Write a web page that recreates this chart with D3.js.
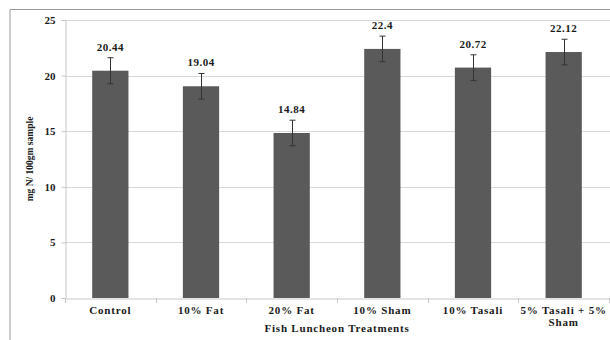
<!DOCTYPE html>
<html><head><meta charset="utf-8">
<script src="https://cdn.jsdelivr.net/npm/d3@7"></script>
<style>body{margin:0;background:#fff}svg{display:block}text{font-family:"Liberation Serif","Times New Roman",serif;font-weight:bold;fill:#1a1a1a}</style>
</head><body><svg id="c" width="610" height="340"></svg>
<script>
const categories = ["Control","10% Fat","20% Fat","10% Sham","10% Tasali","5% Tasali + 5%|Sham"];
const values = [20.44,19.04,14.84,22.4,20.72,22.12];
const errors = [1.17,1.15,1.15,1.15,1.15,1.15];
const yTicks = [0,5,10,15,20,25];

const svg = d3.select("#c");
const m = {l:65, r:0, t:20, b:42};
const W = 610, H = 340;
// outer frame
svg.append("path").attr("d","M10,340V9.5H610").attr("fill","none").attr("stroke","#9a9a9a").attr("stroke-width",1);

const x = d3.scaleBand().domain(categories).range([m.l, W - 1]).paddingInner(0.6).paddingOuter(0.3);
const y = d3.scaleLinear().domain([0,25]).range([298, 20]);

// gridlines
svg.append("g").selectAll("line").data(yTicks.filter(d=>d>0)).join("line")
  .attr("x1", m.l).attr("x2", W).attr("y1", d=>Math.round(y(d))+0.5).attr("y2", d=>Math.round(y(d))+0.5)
  .attr("stroke","#d9d9d9");

// y axis
const ya = svg.append("g").attr("transform",`translate(${m.l+0.5},0)`)
  .call(d3.axisLeft(y).tickValues(yTicks).tickSize(4).tickPadding(6));
ya.select(".domain").attr("stroke","#c8c8c8");
ya.selectAll(".tick line").attr("stroke","#c8c8c8");
ya.selectAll(".tick text").attr("font-size",11).attr("font-family","Liberation Serif").attr("font-weight","bold").attr("fill","#222");

// x axis
const xa = svg.append("g").attr("transform",`translate(0,${Math.round(y(0))+0.5})`)
  .call(d3.axisBottom(x).tickSize(0).tickFormat(""));
xa.select(".domain").attr("stroke","#c8c8c8");
const step = x.step();
const bounds = d3.range(categories.length+1).map(i => x(categories[0]) - x.bandwidth()*0 - (step - x.bandwidth())/2 + i*step);
svg.append("g").selectAll("line").data(bounds).join("line")
  .attr("x1", d=>Math.round(d)+0.5).attr("x2", d=>Math.round(d)+0.5)
  .attr("y1", y(0)).attr("y2", y(0)+5).attr("stroke","#c8c8c8");

// category labels
const cl = svg.append("g").selectAll("text").data(categories).join("text")
  .attr("x", d=>x(d)+x.bandwidth()/2).attr("y", 314)
  .attr("text-anchor","middle").attr("font-size",11).attr("letter-spacing","0.8px");
cl.each(function(d){
  const parts = d.split("|");
  d3.select(this).selectAll("tspan").data(parts).join("tspan")
    .attr("x", x(d)+x.bandwidth()/2).attr("dy",(p,i)=>i?12:0).text(p=>p);
});

// bars
svg.append("g").selectAll("rect").data(values).join("rect")
  .attr("x",(d,i)=>x(categories[i])).attr("width",x.bandwidth())
  .attr("y",d=>y(d)).attr("height",d=>y(0)-y(d)).attr("fill","#5a5a5a");

// error bars
const eg = svg.append("g").attr("stroke","#333").attr("stroke-width",1);
values.forEach((v,i)=>{
  const cx = Math.round(x(categories[i])+x.bandwidth()/2)+0.5;
  const t = y(v+errors[i]), b = y(v-errors[i]);
  eg.append("line").attr("x1",cx).attr("x2",cx).attr("y1",t).attr("y2",b);
  eg.append("line").attr("x1",cx-3).attr("x2",cx+3).attr("y1",t).attr("y2",t);
  eg.append("line").attr("x1",cx-3).attr("x2",cx+3).attr("y1",b).attr("y2",b);
});

// value labels
svg.append("g").selectAll("text").data(values).join("text")
  .attr("x",(d,i)=>x(categories[i])+x.bandwidth()/2)
  .attr("y",(d,i)=>y(d+errors[i])-7)
  .attr("text-anchor","middle").attr("font-size",11).attr("letter-spacing","0.5px")
  .text(d=>String(d));

// axis titles
svg.append("text").attr("transform","translate(33,159) rotate(-90)")
  .attr("text-anchor","middle").attr("font-size",9.5).text("mg N/ 100gm sample");
svg.append("text").attr("x",337).attr("y",332).attr("text-anchor","middle")
  .attr("font-size",11).attr("letter-spacing","0.8px").text("Fish Luncheon Treatments");
</script></body></html>
